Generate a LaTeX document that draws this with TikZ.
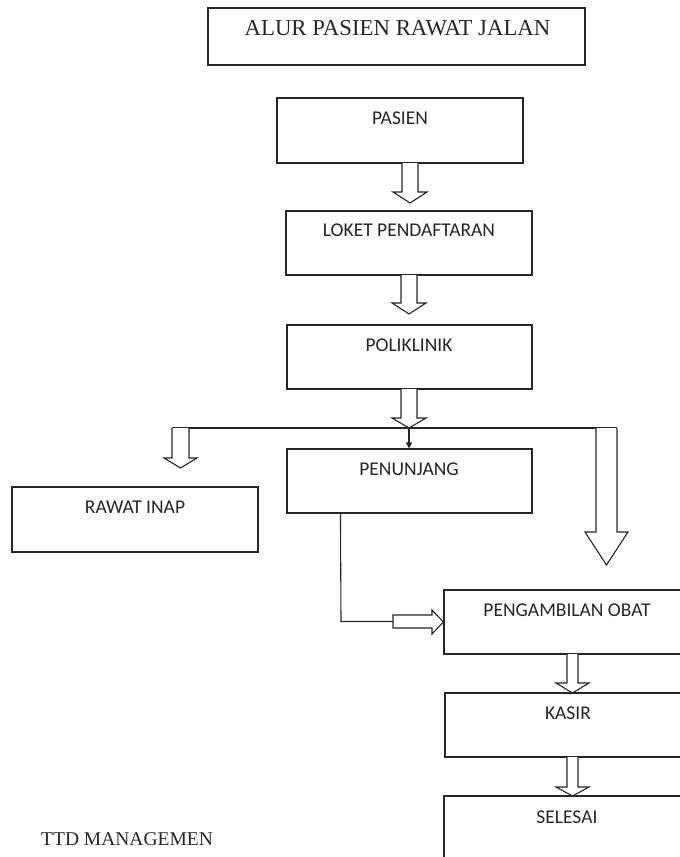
\documentclass[tikz,border=0pt]{standalone}
\usepackage{fontspec}
\setmainfont{Liberation Serif}
\newfontfamily\boxfont{Carlito}
\usetikzlibrary{arrows.meta,calc}
\newcommand{\blockdown}[6]{% x, ytop, yhead, ytip, shafthalf, headhalf
  \draw[hollow] (#1-#5,#2) -- (#1-#5,#3) -- (#1-#6,#3) -- (#1,#4) -- (#1+#6,#3) -- (#1+#5,#3) -- (#1+#5,#2);}
\begin{document}
\begin{tikzpicture}[x=1pt,y=-1pt,
  box/.style={draw=black!85,line width=1.1pt,inner sep=0pt,fill=none},
  lbl/.style={font=\boxfont\fontsize{19.5}{22}\selectfont,anchor=base,inner sep=0pt,text=black!85},
  hollow/.style={draw=black!85,line width=1.1pt,fill=white,line join=miter},
  conn/.style={draw=black!85,line width=1.1pt}]
\useasboundingbox (0,0) rectangle (680,857);
\clip (0,0) rectangle (680,857);
% title
\node[box,minimum width=377pt,minimum height=57pt] (title) at (396.5,36.5) {};
\node[anchor=base,inner sep=0pt,font=\fontsize{22.8}{26}\selectfont,text=black!85] (titletxt) at (397.5,35) {ALUR PASIEN RAWAT JALAN};
% boxes
\node[box,minimum width=246pt,minimum height=65pt] (pasien) at (400,130.5) {};
\node[lbl] (pasienlbl) at (400,124) {PASIEN};
\node[box,minimum width=246pt,minimum height=64pt] (loket) at (409,243) {};
\node[lbl] (loketlbl) at (409,236) {LOKET PENDAFTARAN};
\node[box,minimum width=245pt,minimum height=64pt] (poli) at (409.5,357) {};
\node[lbl] (polilbl) at (409,351) {POLIKLINIK};
\node[box,minimum width=245pt,minimum height=64pt] (penunjang) at (409.5,481) {};
\node[lbl] (penunjanglbl) at (409,475) {PENUNJANG};
\node[box,minimum width=246pt,minimum height=65pt] (rawat) at (135,519.5) {};
\node[lbl] (rawatlbl) at (135,513) {RAWAT INAP};
\node[box,minimum width=246pt,minimum height=64pt] (obat) at (567,622) {};
\node[lbl] (obatlbl) at (567,616) {PENGAMBILAN OBAT};
\node[box,minimum width=246pt,minimum height=64pt] (kasir) at (568,725) {};
\node[lbl] (kasirlbl) at (568,719) {KASIR};
\node[box,minimum width=246pt,minimum height=64pt] (selesai) at (567,828) {};
\node[lbl] (selesailbl) at (567,823) {SELESAI};
\node[anchor=base west,inner sep=0pt,font=\fontsize{19.5}{22}\selectfont,text=black!85] (ttd) at (41,845) {TTD MANAGEMEN};
% block arrows
\blockdown{410}{163}{192}{203}{8}{17}
\blockdown{409}{275}{303}{314}{8}{17}
\blockdown{409}{389}{418}{428}{8}{17}
% split line
\coordinate (split) at (409,428);
\coordinate (splitL) at (172,428);
\coordinate (splitR) at (617,428);
\draw[conn] (splitL) -- (splitR);
\draw[hollow] (splitL) -- (172,458) -- (164,458) -- (180.5,468) -- (197,458) -- (189,458) -- (189,428);
\draw[hollow] (596,428) -- (596,532) -- (585,532) -- (606.5,565) -- (628,532) -- (617,532) -- (splitR);
\draw[conn,-{Triangle[length=6pt,width=6pt]}] (split) -- (split |- penunjang.north);
% penunjang to obat
\coordinate (pjout) at ($(penunjang.south west)+(54,0)$);
\coordinate (bend) at (341,621.5);
\coordinate (harrow) at (393,621.5);
\draw[conn] (pjout) -- (bend) -- (harrow);
\draw[hollow] (393,615) -- (432,615) -- (432,610) -- (obat.west) -- (432,634) -- (432,628) -- (393,628) -- cycle;
% lower arrows
\blockdown{572.5}{654}{683}{693}{5.5}{16.5}
\blockdown{572.5}{757}{787}{796}{5.5}{16.5}
\end{tikzpicture}
\end{document}
